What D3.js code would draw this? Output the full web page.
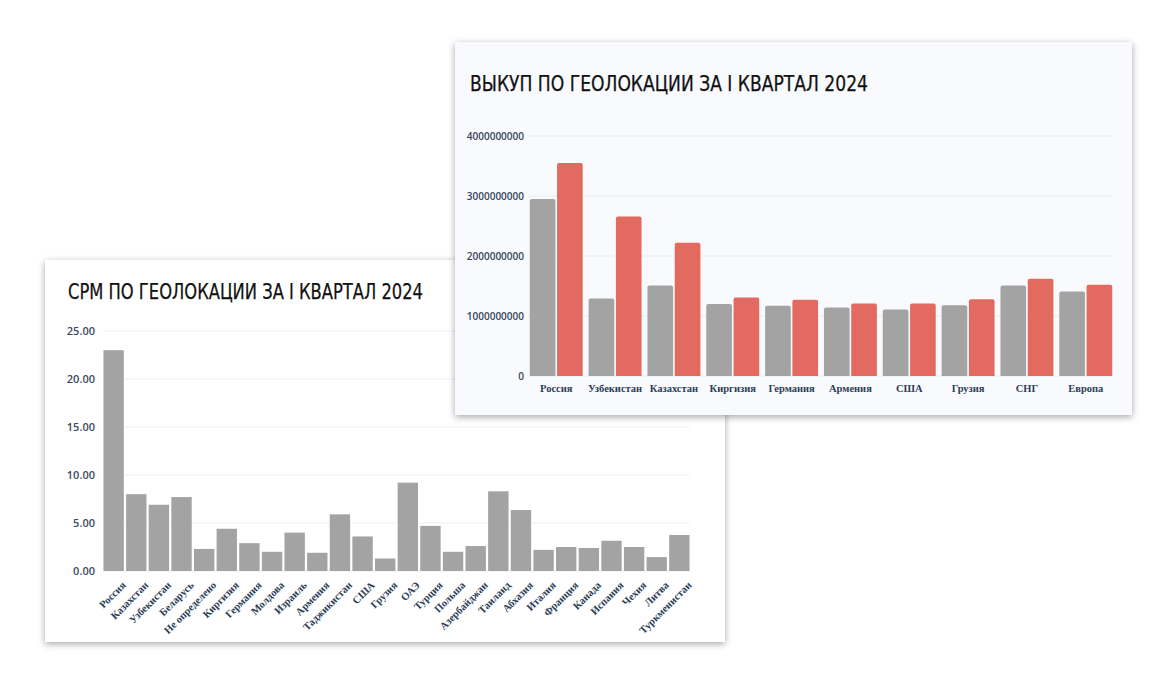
<!DOCTYPE html>
<html><head><meta charset="utf-8">
<script src="https://cdn.jsdelivr.net/npm/d3@7"></script>
<style>
html,body{margin:0;padding:0;background:#fff;}
svg{display:block;}
</style></head>
<body>
<svg id="c" width="1176" height="681"></svg>
<script>
// ---- CPM chart data ----
const cpmCategories = ["Россия","Казахстан","Узбекистан","Беларусь","Не определено","Киргизия","Германия","Молдова","Израиль","Армения","Таджикистан","США","Грузия","ОАЭ","Турция","Польша","Азербайджан","Таиланд","Абхазия","Италия","Франция","Канада","Испания","Чехия","Литва","Туркменистан"];
const cpmValues = [23.0,8.0,6.9,7.7,2.3,4.4,2.9,2.0,4.0,1.9,5.9,3.6,1.3,9.2,4.7,2.0,2.6,8.3,6.35,2.2,2.5,2.4,3.15,2.5,1.45,3.75];
const cpmTicks = [0,5,10,15,20,25];
const cpmTitle = "CPM ПО ГЕОЛОКАЦИИ ЗА I КВАРТАЛ 2024";

// ---- Выкуп chart data ----
const buyCategories = ["Россия","Узбекистан","Казахстан","Киргизия","Германия","Армения","США","Грузия","СНГ","Европа"];
const buyGray = [2.95e9,1.29e9,1.51e9,1.20e9,1.17e9,1.14e9,1.11e9,1.18e9,1.51e9,1.41e9];
const buyRed  = [3.55e9,2.66e9,2.22e9,1.31e9,1.27e9,1.21e9,1.21e9,1.28e9,1.62e9,1.52e9];
const buyTicks = [0,1e9,2e9,3e9,4e9];
const buyTitle = "ВЫКУП ПО ГЕОЛОКАЦИИ ЗА I КВАРТАЛ 2024";

const GRAY = "#a3a3a3", RED = "#e36a60";
const TITLE_FONT = "'Liberation Sans Narrow','DejaVu Sans Condensed','Open Sans',sans-serif";
const AXIS_FONT = "'Open Sans','DejaVu Sans',sans-serif";
const LABEL_FONT = "'Liberation Serif','DejaVu Serif',serif";

const svg = d3.select("#c");
const defs = svg.append("defs");
const f = defs.append("filter").attr("id","sh").attr("x","-5%").attr("y","-5%").attr("width","110%").attr("height","115%");
f.append("feDropShadow").attr("dx",0).attr("dy",2).attr("stdDeviation",3.5).attr("flood-color","#000").attr("flood-opacity",0.35);

// ===== Left card: CPM =====
const L = svg.append("g");
L.append("rect").attr("x",45).attr("y",260).attr("width",680).attr("height",382).attr("fill","#fff").attr("filter","url(#sh)");
L.append("text").attr("x",68).attr("y",299).text(cpmTitle)
  .attr("font-family",TITLE_FONT).attr("font-size",21).attr("fill","#111")
  .attr("stroke","#111").attr("stroke-width",0.25)
  .attr("textLength",355).attr("lengthAdjust","spacingAndGlyphs");

const lx = d3.scaleBand().domain(cpmCategories).range([103,690]).paddingInner(0.1).paddingOuter(0.02);
const ly = d3.scaleLinear().domain([0,25]).range([571,331]);

L.append("g").selectAll("line").data(cpmTicks).join("line")
  .attr("x1",103).attr("x2",690).attr("y1",d=>ly(d)).attr("y2",d=>ly(d))
  .attr("stroke","#eef0f3").attr("stroke-width",1);

const lyAxis = L.append("g").attr("transform","translate(103,0)")
  .call(d3.axisLeft(ly).tickValues(cpmTicks).tickFormat(d3.format(".2f")).tickSize(0).tickPadding(8));
lyAxis.select(".domain").remove();
lyAxis.selectAll("text").attr("font-family",AXIS_FONT).attr("font-size",11).attr("font-weight",600).attr("fill","#3b4a5e");

L.append("g").selectAll("rect").data(cpmValues).join("rect")
  .attr("x",(d,i)=>lx(cpmCategories[i])).attr("width",lx.bandwidth())
  .attr("y",d=>ly(d)).attr("height",d=>ly(0)-ly(d)).attr("fill",GRAY);

const lxAxis = L.append("g").attr("transform","translate(0,571)")
  .call(d3.axisBottom(lx).tickSize(0).tickPadding(6));
lxAxis.select(".domain").remove();
lxAxis.selectAll("text").attr("font-family",LABEL_FONT).attr("font-size",10.5).attr("font-weight",700).attr("fill","#2c3e57")
  .attr("text-anchor","end").attr("dy","0.35em").attr("transform","translate(6,8) rotate(-45)");

// ===== Right card: Выкуп =====
const R = svg.append("g");
R.append("rect").attr("x",455).attr("y",42).attr("width",677).attr("height",373).attr("fill","#f9fafd").attr("filter","url(#sh)");
R.append("text").attr("x",470).attr("y",91).text(buyTitle)
  .attr("font-family",TITLE_FONT).attr("font-size",22).attr("fill","#111")
  .attr("stroke","#111").attr("stroke-width",0.25)
  .attr("textLength",398).attr("lengthAdjust","spacingAndGlyphs");

const rx0 = d3.scaleBand().domain(buyCategories).range([528,1114]).paddingInner(0.1).paddingOuter(0.03);
const rx1 = d3.scaleBand().domain(["gray","red"]).range([0,rx0.bandwidth()]).paddingInner(0.06);
const ry = d3.scaleLinear().domain([0,4e9]).range([376,136]);

R.append("g").selectAll("line").data(buyTicks).join("line")
  .attr("x1",528).attr("x2",1112).attr("y1",d=>ry(d)).attr("y2",d=>ry(d))
  .attr("stroke","#e9edf2").attr("stroke-width",1);

const ryAxis = R.append("g").attr("transform","translate(528,0)")
  .call(d3.axisLeft(ry).tickValues(buyTicks).tickFormat(d3.format("d")).tickSize(0).tickPadding(4));
ryAxis.select(".domain").remove();
ryAxis.selectAll("text").attr("font-family",AXIS_FONT).attr("font-size",10).attr("font-weight",600).attr("fill","#34455b");

function topRounded(x,y,w,h,r){
  r=Math.min(r,h/2,w/2);
  return `M${x},${y+h}V${y+r}Q${x},${y} ${x+r},${y}H${x+w-r}Q${x+w},${y} ${x+w},${y+r}V${y+h}Z`;
}
const groups = R.append("g").selectAll("g").data(buyCategories).join("g")
  .attr("transform",d=>`translate(${rx0(d)},0)`);
groups.append("path").attr("fill",GRAY)
  .attr("d",(d,i)=>topRounded(rx1("gray"),ry(buyGray[i]),rx1.bandwidth(),ry(0)-ry(buyGray[i]),2));
groups.append("path").attr("fill",RED)
  .attr("d",(d,i)=>topRounded(rx1("red"),ry(buyRed[i]),rx1.bandwidth(),ry(0)-ry(buyRed[i]),2));

const rxAxis = R.append("g").attr("transform","translate(0,376)")
  .call(d3.axisBottom(rx0).tickSize(0).tickPadding(9));
rxAxis.select(".domain").remove();
rxAxis.selectAll("text").attr("font-family",LABEL_FONT).attr("font-size",10.5).attr("font-weight",700).attr("fill","#2c3e57");
</script>
</body></html>
